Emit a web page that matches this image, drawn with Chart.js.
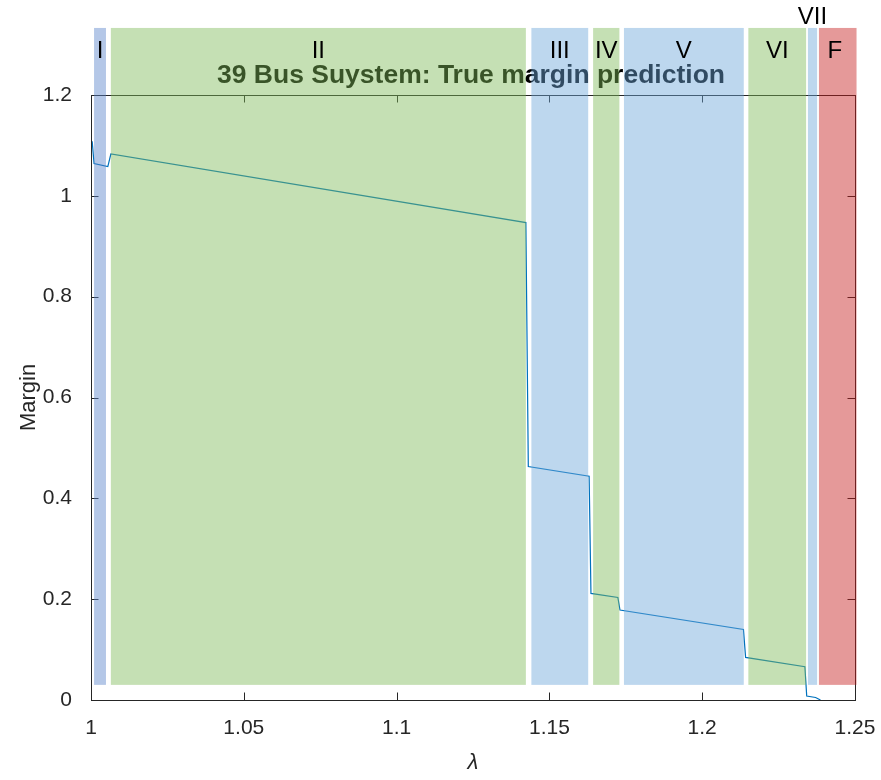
<!DOCTYPE html>
<html>
<head>
<meta charset="utf-8">
<title>39 Bus Suystem: True margin prediction</title>
<script src="https://cdn.jsdelivr.net/npm/chart.js@4/dist/chart.umd.min.js"></script>
<style>
  html, body { margin: 0; padding: 0; background: #ffffff; }
  #wrap { width: 881px; height: 780px; }
</style>
</head>
<body>
<div id="wrap"><canvas id="c" width="881" height="780"></canvas></div>
<script>
// Load factor (lambda) and stability margin along the trajectory
const lambda = [1.0000, 1.0004, 1.0010, 1.0055, 1.0065, 1.1423, 1.1431, 1.1630, 1.1636, 1.1724, 1.1731, 1.2135, 1.2142, 1.2336, 1.2342, 1.2371, 1.2387];
const margin = [1.107, 1.107, 1.064, 1.058, 1.083, 0.947, 0.463, 0.444, 0.2115, 0.2033, 0.1785, 0.140, 0.0845, 0.066, 0.008, 0.005, 0.000];

// Operating regions along lambda
const regionNames = ['I', 'II', 'III', 'IV', 'V', 'VI', 'VII', 'F'];
const regionStart = [1.0010, 1.0065, 1.1441, 1.1643, 1.1744, 1.2151, 1.2346, 1.2382];
const regionEnd   = [1.0049, 1.1423, 1.1627, 1.1729, 1.2136, 1.2340, 1.2376, 1.2505];
const regionKind  = ['blue0', 'green', 'blue', 'green', 'blue', 'green', 'blue', 'red'];
const regionLow = 0.03, regionHigh = 1.333;

// Axis ticks
const xTicks = [1, 1.05, 1.1, 1.15, 1.2, 1.25];
const yTicks = [0, 0.2, 0.4, 0.6, 0.8, 1, 1.2];

const FONT = '"Liberation Sans", Arial, Helvetica, sans-serif';
const AXIS = '#262626';
const fills = {
  blue0: 'rgba(88,130,202,0.45)',
  blue:  'rgba(108,166,217,0.45)',
  green: 'rgba(126,186,88,0.45)',
  red:   'rgba(197,28,28,0.45)'
};

const frame = {
  id: 'frame',
  afterDraw(chart) {
    const ctx = chart.ctx, a = chart.chartArea;
    const xs = chart.scales.x, ys = chart.scales.y;
    ctx.save();
    // axes box
    ctx.strokeStyle = AXIS;
    ctx.lineWidth = 1;
    ctx.strokeRect(Math.round(a.left) + 0.5, Math.round(a.top) + 0.5,
                   Math.round(a.right - a.left), Math.round(a.bottom - a.top));
    // inward tick marks on all four sides
    const tl = 7.5;
    ctx.beginPath();
    xTicks.forEach(v => {
      const px = Math.round(xs.getPixelForValue(v)) + 0.5;
      ctx.moveTo(px, a.bottom); ctx.lineTo(px, a.bottom - tl);
      ctx.moveTo(px, a.top); ctx.lineTo(px, a.top + tl);
    });
    yTicks.forEach(v => {
      const py = Math.round(ys.getPixelForValue(v)) + 0.5;
      ctx.moveTo(a.left, py); ctx.lineTo(a.left + tl, py);
      ctx.moveTo(a.right, py); ctx.lineTo(a.right - tl, py);
    });
    ctx.stroke();

    // axis titles
    ctx.fillStyle = AXIS;
    ctx.textAlign = 'center';
    ctx.textBaseline = 'middle';
    ctx.font = 'italic 22px ' + FONT;
    ctx.fillText('λ', (a.left + a.right) / 2, 763);
    ctx.save();
    ctx.translate(29, (a.top + a.bottom) / 2);
    ctx.rotate(-Math.PI / 2);
    ctx.font = '22px ' + FONT;
    ctx.fillText('Margin', 0, 0);
    ctx.restore();

    // title
    ctx.fillStyle = '#000000';
    ctx.font = 'bold 26.5px ' + FONT;
    ctx.textBaseline = 'alphabetic';
    ctx.fillText('39 Bus Suystem: True margin prediction', (a.left + a.right) / 2 - 2, 83);

    // translucent region bands over everything drawn so far
    const yTop = ys.getPixelForValue(regionHigh), yBot = ys.getPixelForValue(regionLow);
    regionNames.forEach((n, i) => {
      const x0 = xs.getPixelForValue(regionStart[i]);
      const x1 = xs.getPixelForValue(regionEnd[i]);
      ctx.fillStyle = fills[regionKind[i]];
      ctx.fillRect(x0, yTop, x1 - x0, yBot - yTop);
    });

    // region names
    ctx.fillStyle = '#000000';
    ctx.font = '24px ' + FONT;
    ctx.textBaseline = 'middle';
    regionNames.forEach((n, i) => {
      const x0 = xs.getPixelForValue(regionStart[i]);
      const x1 = xs.getPixelForValue(regionEnd[i]);
      const narrow = x1 - x0 < 12 && i > 0;
      ctx.fillText(n, (x0 + x1) / 2 - (n === 'F' ? 3 : 0), narrow ? 17 : 51);
    });
    ctx.restore();
  }
};

new Chart(document.getElementById('c'), {
  type: 'scatter',
  data: {
    datasets: [{
      data: lambda.map((x, i) => ({ x: x, y: margin[i] })),
      showLine: true,
      borderColor: '#0072BD',
      backgroundColor: '#0072BD',
      borderWidth: 1.2,
      pointRadius: 0,
      tension: 0,
      fill: false
    }]
  },
  options: {
    responsive: false,
    animation: false,
    devicePixelRatio: 1,
    layout: { padding: { left: 0, top: 95, right: 26, bottom: 0 } },
    plugins: { legend: { display: false }, tooltip: { enabled: false }, title: { display: false } },
    scales: {
      x: {
        type: 'linear', min: 1, max: 1.25,
        grid: { display: false },
        border: { display: false },
        afterFit(s) { s.height = 80; s.paddingLeft = 0; s.paddingRight = 0; },
        afterBuildTicks(s) { s.ticks = xTicks.map(v => ({ value: v })); },
        ticks: {
          color: AXIS, padding: 8, maxRotation: 0, autoSkip: false,
          font: { family: FONT, size: 21 },
          callback: v => String(Number(v.toFixed(2)))
        }
      },
      y: {
        type: 'linear', min: 0, max: 1.2,
        grid: { display: false },
        border: { display: false },
        afterFit(s) { s.width = 91; s.paddingTop = 0; s.paddingBottom = 0; },
        afterBuildTicks(s) { s.ticks = yTicks.map(v => ({ value: v })); },
        ticks: {
          color: AXIS, padding: 11,
          font: { family: FONT, size: 21 },
          callback: v => String(Number(v.toFixed(2)))
        }
      }
    }
  },
  plugins: [frame]
});
</script>
</body>
</html>
